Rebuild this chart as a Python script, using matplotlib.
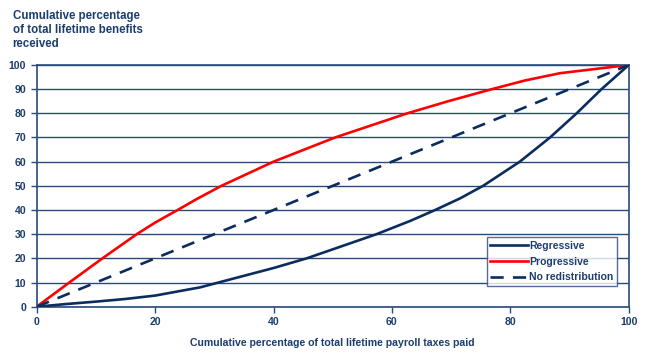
import numpy as np
import matplotlib
matplotlib.use("Agg")
import matplotlib.pyplot as plt

# values
prog_x = [0, 5.5, 11.1, 16.9, 20, 23.8, 27, 31.2, 40, 50.4, 62.6, 69.5, 76.9, 82.5, 88.4, 95.2, 100]
prog_y = [0, 10, 20, 30, 34.8, 40, 44.5, 50, 60, 70, 80, 85.0, 90, 93.6, 96.6, 98.6, 100]

regr_x = [0, 5, 10, 15, 20, 27.6, 30.7, 40, 45.6, 51.5, 57.4, 63.1, 67.3, 71.5, 75.4, 81.6, 86.7, 91.2, 95.4, 100]
regr_y = [0, 1.1, 2.1, 3.2, 4.6, 8, 10, 16, 20, 25, 30, 35.5, 40, 44.8, 50, 60, 70, 80, 90, 100]

flat_x = [0, 100]
flat_y = [0, 100]

x_ticks = [0, 20, 40, 60, 80, 100]
y_ticks = list(range(0, 101, 10))

navy = "#0B2C5E"
text_col = "#1C3D6E"
grid_col = "#2A4A78"

plt.rcParams['font.family'] = ['Liberation Sans', 'DejaVu Sans']
plt.rcParams['font.weight'] = 'bold'

fig = plt.figure(figsize=(6.5, 3.56), dpi=100)
ax = fig.add_axes([0.0565, 0.1385, 0.9108, 0.679])

for y in y_ticks:
    ax.axhline(y, color=grid_col, lw=1.0, zorder=1)

ax.plot(regr_x, regr_y, color=navy, lw=1.9, label="Regressive", zorder=3,
        solid_joinstyle='round')
ax.plot(prog_x, prog_y, color="#FF0000", lw=1.9, label="Progressive", zorder=3,
        solid_joinstyle='round')
ax.plot(flat_x, flat_y, color=navy, lw=1.9, ls=(0, (5, 3.5)), label="No redistribution", zorder=3)

ax.set_xlim(0, 100)
ax.set_ylim(0, 100)
ax.set_xticks(x_ticks)
ax.set_yticks(y_ticks)
ax.tick_params(colors=grid_col, labelcolor=text_col, labelsize=7.6, length=4, width=1.0)
for lab in ax.get_xticklabels() + ax.get_yticklabels():
    lab.set_fontweight('bold')
for s in ax.spines.values():
    s.set_color(grid_col)
    s.set_linewidth(1.2)

ax.set_xlabel("Cumulative percentage of total lifetime payroll taxes paid",
              fontsize=7.6, color=text_col, fontweight='bold', labelpad=8)

fig.text(0.0195, 0.972, "Cumulative percentage\nof total lifetime benefits\nreceived",
         ha='left', va='top', fontsize=8.3, color=text_col, fontweight='bold',
         linespacing=1.25)

leg = ax.legend(loc='lower right', bbox_to_anchor=(0.98, 0.0857), fontsize=7.5,
                frameon=True, fancybox=False, handlelength=3.6, handletextpad=0.1,
                labelspacing=0.55, borderpad=0.35, borderaxespad=0)
leg.get_frame().set_edgecolor(grid_col)
leg.get_frame().set_linewidth(1.0)
for t in leg.get_texts():
    t.set_color(text_col)
    t.set_fontweight('bold')

fig.savefig("out.png", dpi=100)
